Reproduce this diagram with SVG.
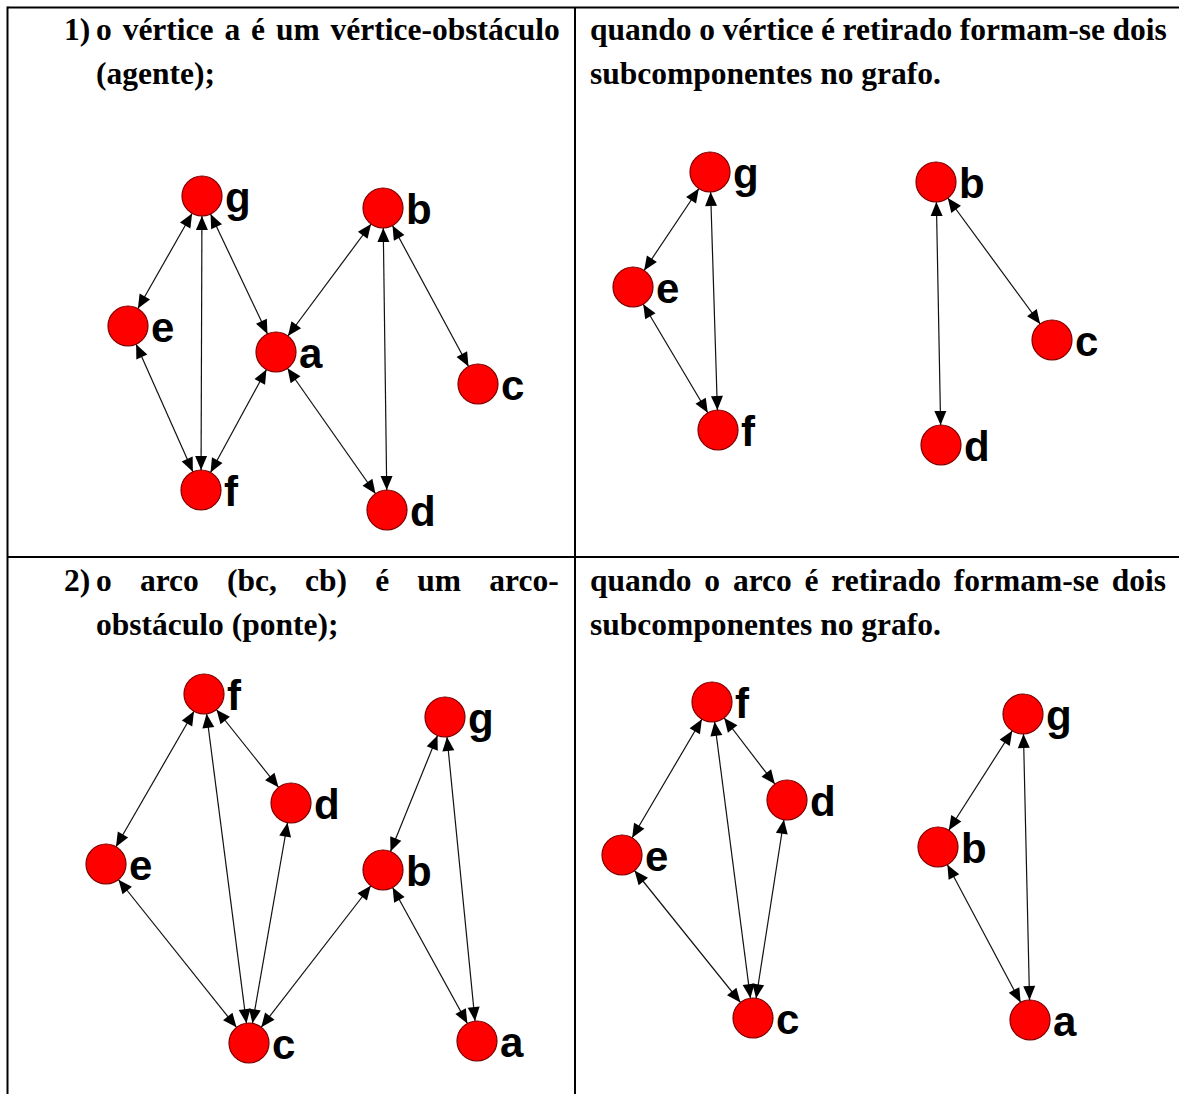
<svg xmlns="http://www.w3.org/2000/svg" width="1179" height="1094" viewBox="0 0 1179 1094">
<style>
.bg{fill:#fff}
.tb{stroke:#000;stroke-width:2;fill:none}
.t{font-family:"Liberation Serif","Times New Roman",serif;font-weight:bold;font-size:31.5px;fill:#000}
.e{stroke:#111;stroke-width:1.2;fill:none;marker-start:url(#arr);marker-end:url(#arr)}
.n circle{fill:#f00;stroke:#7a0000;stroke-width:1.2}
.n text{font-family:"Liberation Sans",Arial,sans-serif;font-weight:bold;font-size:42px;fill:#000}
</style>
<defs>
<marker id="arr" viewBox="-40 -10 40 20" refX="0" refY="0" markerWidth="40" markerHeight="20" markerUnits="userSpaceOnUse" orient="auto-start-reverse">
<path d="M-20,0 L-34,-6 L-34,6 Z" fill="#000"/>
</marker>
</defs>
<rect class="bg" x="0" y="0" width="1179" height="1094"/>
<g id="table">
<line class="tb" x1="7.5" y1="7.5" x2="1179" y2="7.5"/>
<line class="tb" x1="7.5" y1="6.5" x2="7.5" y2="1094"/>
<line class="tb" x1="575" y1="7.5" x2="575" y2="1094"/>
<line class="tb" x1="7.5" y1="557" x2="1179" y2="557"/>
</g>
<g id="texts">
<text class="t" x="64" y="40">1)</text>
<text class="t" x="96" y="40" word-spacing="3">o vértice a é um vértice-obstáculo</text>
<text class="t" x="96" y="84">(agente);</text>
<text class="t" x="590" y="40" word-spacing="-0.3">quando o vértice é retirado formam-se dois</text>
<text class="t" x="590" y="84">subcomponentes no grafo.</text>
<text class="t" x="64" y="591">2)</text>
<text class="t" x="96" y="591" word-spacing="20.3">o arco (bc, cb) é um arco-</text>
<text class="t" x="96" y="635">obstáculo (ponte);</text>
<text class="t" x="590" y="591" word-spacing="4.9">quando o arco é retirado formam-se dois</text>
<text class="t" x="590" y="635">subcomponentes no grafo.</text>
</g>
<g id="connectors">
<!-- row 1 left -->
<line class="e" x1="202" y1="196" x2="128" y2="326"/>
<line class="e" x1="202" y1="196" x2="201" y2="490"/>
<line class="e" x1="202" y1="196" x2="276" y2="352"/>
<line class="e" x1="383" y1="208" x2="276" y2="352"/>
<line class="e" x1="383" y1="208" x2="387" y2="510"/>
<line class="e" x1="383" y1="208" x2="478" y2="384"/>
<line class="e" x1="128" y1="326" x2="201" y2="490"/>
<line class="e" x1="276" y1="352" x2="201" y2="490"/>
<line class="e" x1="276" y1="352" x2="387" y2="510"/>
<!-- row 1 right -->
<line class="e" x1="710" y1="172" x2="633" y2="287"/>
<line class="e" x1="710" y1="172" x2="718" y2="430"/>
<line class="e" x1="633" y1="287" x2="718" y2="430"/>
<line class="e" x1="936" y1="182" x2="1052" y2="340"/>
<line class="e" x1="936" y1="182" x2="941" y2="445"/>
<!-- row 2 left -->
<line class="e" x1="204" y1="694" x2="106" y2="864"/>
<line class="e" x1="204" y1="694" x2="249" y2="1043"/>
<line class="e" x1="204" y1="694" x2="291" y2="803"/>
<line class="e" x1="291" y1="803" x2="249" y2="1043"/>
<line class="e" x1="106" y1="864" x2="249" y2="1043"/>
<line class="e" x1="249" y1="1043" x2="383" y2="870"/>
<line class="e" x1="383" y1="870" x2="445" y2="717"/>
<line class="e" x1="445" y1="717" x2="477" y2="1041"/>
<line class="e" x1="383" y1="870" x2="477" y2="1041"/>
<!-- row 2 right -->
<line class="e" x1="712" y1="702" x2="622" y2="855"/>
<line class="e" x1="712" y1="702" x2="753" y2="1018"/>
<line class="e" x1="712" y1="702" x2="787" y2="800"/>
<line class="e" x1="787" y1="800" x2="753" y2="1018"/>
<line class="e" x1="622" y1="855" x2="753" y2="1018"/>
<line class="e" x1="1023" y1="714" x2="938" y2="847"/>
<line class="e" x1="1023" y1="714" x2="1030" y2="1020"/>
<line class="e" x1="938" y1="847" x2="1030" y2="1020"/>
</g>
<g id="r1l-g" class="n"><circle cx="202" cy="196" r="20"/><text x="225" y="212">g</text></g>
<g id="r1l-b" class="n"><circle cx="383" cy="208" r="20"/><text x="406" y="224">b</text></g>
<g id="r1l-e" class="n"><circle cx="128" cy="326" r="20"/><text x="151" y="342">e</text></g>
<g id="r1l-a" class="n"><circle cx="276" cy="352" r="20"/><text x="299" y="368">a</text></g>
<g id="r1l-c" class="n"><circle cx="478" cy="384" r="20"/><text x="501" y="400">c</text></g>
<g id="r1l-f" class="n"><circle cx="201" cy="490" r="20"/><text x="224" y="506">f</text></g>
<g id="r1l-d" class="n"><circle cx="387" cy="510" r="20"/><text x="410" y="526">d</text></g>

<g id="r1r-g" class="n"><circle cx="710" cy="172" r="20"/><text x="733" y="188">g</text></g>
<g id="r1r-b" class="n"><circle cx="936" cy="182" r="20"/><text x="959" y="198">b</text></g>
<g id="r1r-e" class="n"><circle cx="633" cy="287" r="20"/><text x="656" y="303">e</text></g>
<g id="r1r-c" class="n"><circle cx="1052" cy="340" r="20"/><text x="1075" y="356">c</text></g>
<g id="r1r-f" class="n"><circle cx="718" cy="430" r="20"/><text x="741" y="446">f</text></g>
<g id="r1r-d" class="n"><circle cx="941" cy="445" r="20"/><text x="964" y="461">d</text></g>

<g id="r2l-f" class="n"><circle cx="204" cy="694" r="20"/><text x="227" y="710">f</text></g>
<g id="r2l-g" class="n"><circle cx="445" cy="717" r="20"/><text x="468" y="733">g</text></g>
<g id="r2l-d" class="n"><circle cx="291" cy="803" r="20"/><text x="314" y="819">d</text></g>
<g id="r2l-e" class="n"><circle cx="106" cy="864" r="20"/><text x="129" y="880">e</text></g>
<g id="r2l-b" class="n"><circle cx="383" cy="870" r="20"/><text x="406" y="886">b</text></g>
<g id="r2l-c" class="n"><circle cx="249" cy="1043" r="20"/><text x="272" y="1059">c</text></g>
<g id="r2l-a" class="n"><circle cx="477" cy="1041" r="20"/><text x="500" y="1057">a</text></g>

<g id="r2r-f" class="n"><circle cx="712" cy="702" r="20"/><text x="735" y="718">f</text></g>
<g id="r2r-g" class="n"><circle cx="1023" cy="714" r="20"/><text x="1046" y="730">g</text></g>
<g id="r2r-d" class="n"><circle cx="787" cy="800" r="20"/><text x="810" y="816">d</text></g>
<g id="r2r-b" class="n"><circle cx="938" cy="847" r="20"/><text x="961" y="863">b</text></g>
<g id="r2r-e" class="n"><circle cx="622" cy="855" r="20"/><text x="645" y="871">e</text></g>
<g id="r2r-c" class="n"><circle cx="753" cy="1018" r="20"/><text x="776" y="1034">c</text></g>
<g id="r2r-a" class="n"><circle cx="1030" cy="1020" r="20"/><text x="1053" y="1036">a</text></g>
</svg>
